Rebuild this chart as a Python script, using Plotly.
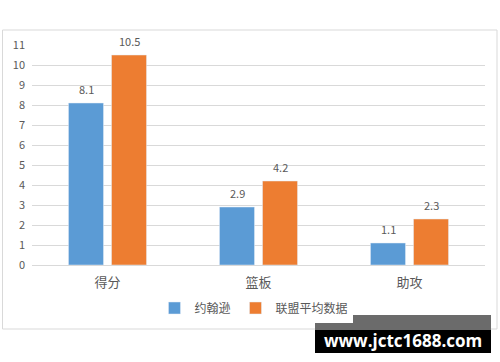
import plotly.graph_objects as go

categories = ["得分", "篮板", "助攻"]
johnson = [8.1, 2.9, 1.1]
league = [10.5, 4.2, 2.3]
series_names = ["约翰逊", "联盟平均数据"]
y_ticks = list(range(0, 12))

fig = go.Figure()
fig.add_trace(go.Bar(x=categories, y=johnson, name=series_names[0], marker_color="#5B9BD5"))
fig.add_trace(go.Bar(x=categories, y=league, name=series_names[1], marker_color="#ED7D31"))

L, R, T, B = 32, 15, 45, 97
W, H = 500, 362
pw, ph = W - L - R, H - T - B

def px(x):
    return (x - L) / pw

def py(y):
    return (H - B - y) / ph

shapes = [
    dict(type="rect", xref="paper", yref="paper", x0=px(2.5), x1=px(497), y0=py(329), y1=py(30),
         line=dict(color="#d9d9d9", width=1), fillcolor="rgba(0,0,0,0)", layer="below"),
    dict(type="rect", xref="paper", yref="paper", x0=px(315), x1=px(491), y0=py(330), y1=py(315),
         line=dict(width=0), fillcolor="#6b6b6b"),
    dict(type="rect", xref="paper", yref="paper", x0=px(315), x1=px(491), y0=py(353), y1=py(330),
         line=dict(width=0), fillcolor="#000000"),
]

annotations = []
for series, dx in ((johnson, -21.5), (league, 21.5)):
    for c, v in zip(categories, series):
        annotations.append(dict(text=f"{v}", x=c, y=v, xref="x", yref="y", xshift=dx, yshift=14,
                                xanchor="center", yanchor="middle", showarrow=False,
                                font=dict(size=11, color="#595959")))
annotations.append(dict(text="<b>www.jctc1688.com</b>", xref="paper", yref="paper",
                        x=px(403), y=py(340), xanchor="center", yanchor="middle", showarrow=False,
                        font=dict(family="Open Sans, sans-serif", size=17, color="white")))

fig.update_layout(
    width=W, height=H,
    margin=dict(l=L, r=R, t=T, b=B),
    paper_bgcolor="white", plot_bgcolor="white",
    font=dict(family="Noto Sans CJK SC, Liberation Sans, sans-serif", color="#595959", size=11),
    barmode="group", bargap=0.43, bargroupgap=0.186,
    showlegend=True,
    legend=dict(orientation="h", x=0.49, xanchor="center", y=py(308), yanchor="middle",
                font=dict(size=12, color="#595959"), itemwidth=30, traceorder="normal"),
    xaxis=dict(showgrid=False, showline=True, linecolor="#d9d9d9", ticks="",
               ticklabelstandoff=5, tickfont=dict(size=13, color="#595959")),
    yaxis=dict(range=[0, 11], tickvals=y_ticks, showgrid=True, gridcolor="#d9d9d9",
               zeroline=False, showline=False, ticks="", ticklabelstandoff=6,
               tickfont=dict(size=11, color="#595959")),
    shapes=shapes,
    annotations=annotations,
)

fig.write_html("out.html")
